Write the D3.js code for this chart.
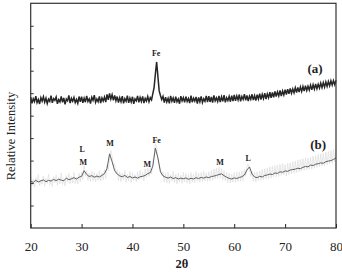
<!DOCTYPE html>
<html>
<head>
<meta charset="utf-8">
<script src="https://cdn.jsdelivr.net/npm/d3@7"></script>
<style>
  body { margin: 0; background: #fff; }
  svg { display: block; font-family: "Liberation Serif", "DejaVu Serif", serif; }
</style>
</head>
<body>
<svg id="chart" width="342" height="272"></svg>
<script>
// 2theta sampling: start 20, step 0.25 for the noisy traces, 0.5 for the smoothed one
var thetaStart = 20, fineStep = 0.25, coarseStep = 0.5;
var xTicks = [20, 30, 40, 50, 60, 70, 80];
var yTicks = [1, 2, 3, 4, 5, 6, 7, 8, 9];

// (a) raw trace
var seriesA = [
  5.82, 5.55, 5.75, 5.62, 5.87, 5.58, 5.72, 5.52, 5.80, 5.65,
  5.84, 5.60, 5.78, 5.54, 5.73, 5.63, 5.89, 5.57, 5.76, 5.68,
  5.83, 5.53, 5.71, 5.61, 5.86, 5.59, 5.79, 5.50, 5.74, 5.66,
  5.90, 5.56, 5.77, 5.64, 5.81, 5.58, 5.72, 5.55, 5.85, 5.62,
  5.84, 5.57, 5.78, 5.60, 5.88, 5.63, 5.75, 5.54, 5.82, 5.68,
  5.91, 5.59, 5.74, 5.62, 5.86, 5.56, 5.79, 5.65, 5.83, 5.60,
  5.95, 5.70, 5.99, 5.74, 5.93, 5.68, 5.90, 5.66,
  5.85, 5.58, 5.80, 5.62, 5.87, 5.55, 5.76, 5.64, 5.89, 5.57,
  5.78, 5.61, 5.84, 5.53, 5.75, 5.66, 5.88, 5.59, 5.81, 5.63,
  5.86, 5.56, 5.77, 5.65, 5.85, 5.62,
  5.80, 5.70, 5.98, 6.25, 6.85, 7.39, 6.75, 6.10, 5.90, 5.72,
  5.86, 5.58, 5.82, 5.61, 5.77, 5.55, 5.88, 5.64, 5.79, 5.57,
  5.84, 5.62, 5.74, 5.53, 5.87, 5.66, 5.80, 5.59, 5.85, 5.63,
  5.76, 5.56, 5.89, 5.60, 5.78, 5.65, 5.83, 5.54, 5.81, 5.62,
  5.86, 5.58, 5.75, 5.64, 5.88, 5.60,
  5.87, 5.61, 5.83, 5.58, 5.90, 5.66, 5.79, 5.63, 5.88, 5.60,
  5.84, 5.64, 5.91, 5.59, 5.80, 5.67, 5.86, 5.62, 5.89, 5.65,
  5.92, 5.66, 5.88, 5.70, 5.94, 5.64, 5.85, 5.72, 5.96, 5.68,
  5.90, 5.65, 5.87, 5.73, 5.95, 5.69, 5.89, 5.67, 5.93, 5.74,
  5.98, 5.72, 5.95, 5.76, 6.00, 5.74, 5.97, 5.80, 6.04, 5.79,
  6.03, 5.82, 6.08, 5.85, 6.06, 5.88, 6.12, 5.87, 6.10, 5.92,
  6.16, 5.94, 6.18, 5.97, 6.21, 6.00, 6.19, 6.02, 6.24, 6.03,
  6.26, 6.05, 6.28, 6.08, 6.30, 6.09, 6.33, 6.12, 6.31, 6.14,
  6.36, 6.15, 6.38, 6.18, 6.41, 6.20, 6.40, 6.23, 6.45, 6.25,
  6.47, 6.27, 6.50, 6.30, 6.52, 6.33, 6.55, 6.36, 6.56, 6.38, 6.57
];

// (b) raw trace (light grey)
var seriesBRaw = [
  2.30, 1.90, 2.18, 1.82, 2.24, 2.00, 2.38, 1.88, 2.14, 1.95,
  2.32, 1.86, 2.21, 1.98, 2.40, 1.92, 2.17, 1.84, 2.28, 2.02,
  2.36, 1.90, 2.25, 1.96, 2.45, 1.94, 2.20, 1.88, 2.34, 2.04,
  2.42, 1.97, 2.30, 2.00, 2.48, 1.98, 2.27, 1.95, 2.44, 2.06,
  2.50, 2.15, 2.78, 2.30, 2.55, 2.12, 2.45, 2.08, 2.52, 2.10,
  2.48, 2.05, 2.42, 2.12, 2.55, 2.08, 2.46, 2.14, 2.60, 2.20,
  2.80, 2.55, 3.10, 3.45, 3.20, 2.75, 2.85, 2.45,
  2.58, 2.12, 2.50, 2.06, 2.44, 2.15, 2.55, 2.04, 2.40, 2.10,
  2.52, 2.02, 2.46, 2.12, 2.38, 2.05, 2.50, 2.14, 2.56, 2.18,
  2.48, 2.10, 2.62, 2.25, 2.66, 2.30,
  2.70, 2.40, 2.95, 3.25, 3.75, 3.60, 3.10, 2.80, 2.62, 2.35,
  2.50, 2.05, 2.42, 2.00, 2.46, 1.98, 2.38, 2.08, 2.52, 2.02,
  2.40, 1.96, 2.44, 2.04, 2.36, 1.99, 2.48, 2.06, 2.42, 2.00,
  2.38, 1.95, 2.46, 2.05, 2.40, 2.02, 2.50, 2.08, 2.44, 2.04,
  2.48, 2.06, 2.52, 2.10, 2.45, 2.08,
  2.50, 2.10, 2.55, 2.12, 2.62, 2.18, 2.66, 2.20, 2.70, 2.22,
  2.64, 2.15, 2.55, 2.10, 2.48, 2.02, 2.44, 2.00, 2.40, 2.04,
  2.46, 2.02, 2.48, 2.06, 2.50, 2.08, 2.54, 2.12, 2.60, 2.30,
  2.75, 2.85, 2.65, 2.30, 2.52, 2.08, 2.48, 2.04, 2.50, 2.10,
  2.55, 2.12, 2.60, 2.15, 2.64, 2.18, 2.68, 2.20, 2.72, 2.22,
  2.74, 2.26, 2.78, 2.28, 2.80, 2.30, 2.84, 2.34, 2.86, 2.36,
  2.82, 2.32, 2.88, 2.38, 2.90, 2.40, 2.95, 2.44, 2.98, 2.46,
  3.02, 2.50, 3.05, 2.54, 3.08, 2.56, 3.12, 2.58, 3.10, 2.62,
  3.15, 2.62, 3.20, 2.66, 3.22, 2.70, 3.28, 2.72, 3.30, 2.76,
  3.34, 2.78, 3.38, 2.82, 3.40, 2.86, 3.45, 2.90, 3.50, 2.95, 3.58
];

// (b) smoothed trace (dark), 0.5 step
var seriesBSmooth = [
  2.08, 2.03, 2.12, 2.05, 2.10, 2.14, 2.06, 2.12, 2.09, 2.16,
  2.11, 2.17, 2.13, 2.10, 2.22, 2.15, 2.19, 2.24, 2.18, 2.26,
  2.30, 2.55, 2.38, 2.29, 2.33, 2.26, 2.31, 2.27, 2.34, 2.42,
  2.65, 3.30, 2.95, 2.55, 2.40, 2.32, 2.28, 2.34, 2.25, 2.29,
  2.23, 2.27, 2.22, 2.28, 2.30, 2.34, 2.42, 2.46, 2.75, 3.55,
  3.12, 2.50, 2.32, 2.26, 2.22, 2.27, 2.20, 2.24, 2.18, 2.22,
  2.19, 2.23, 2.17, 2.21, 2.18, 2.24, 2.20, 2.25, 2.22, 2.27,
  2.24, 2.29, 2.31, 2.34, 2.38, 2.41, 2.33, 2.26, 2.21, 2.18,
  2.23, 2.20, 2.25, 2.28, 2.36, 2.58, 2.72, 2.40, 2.27, 2.24,
  2.30, 2.27, 2.34, 2.36, 2.40, 2.38, 2.45, 2.43, 2.50, 2.48,
  2.54, 2.52, 2.58, 2.60, 2.62, 2.66, 2.64, 2.70, 2.74, 2.72,
  2.80, 2.78, 2.84, 2.86, 2.90, 2.88, 2.95, 2.98, 3.00, 3.05,
  3.12
];

// peak annotations (2theta, intensity at label centre)
var peakText  = ["Fe", "L", "M", "M", "M", "Fe", "M", "L"];
var peakTheta = [44.65, 30.1, 30.35, 35.6, 42.9, 44.75, 57.2, 62.75];
var peakLevel = [7.79, 3.50, 2.95, 3.77, 2.83, 3.92, 2.95, 3.10];

var seriesNames = ["(a)", "(b)"];
var nameTheta = [75.9, 76.5];
var nameLevel = [7.12, 3.74];

var svg = d3.select("#chart");
var margin = {left: 30.7, top: 3.3, right: 6, bottom: 44};
var width = 342 - margin.left - margin.right,
    height = 272 - margin.top - margin.bottom;

var x = d3.scaleLinear().domain([20, 80]).range([0, width]);
var y = d3.scaleLinear().domain([0, 10]).range([height, 0]);

var g = svg.append("g").attr("transform", "translate(" + margin.left + "," + margin.top + ")");

function toPoints(arr, step) {
    return arr.map(function (v, i) { return [thetaStart + i * step, v]; });
}

var line = d3.line().x(function (d) { return x(d[0]); }).y(function (d) { return y(d[1]); });

g.append("path")
    .attr("d", line(toPoints(seriesBRaw, fineStep)))
    .attr("fill", "none").attr("stroke", "#dedede").attr("stroke-width", 0.7);
g.append("path")
    .attr("d", line(toPoints(seriesBSmooth, coarseStep)))
    .attr("fill", "none").attr("stroke", "#505050").attr("stroke-width", 0.9);
g.append("path")
    .attr("d", line(toPoints(seriesA, fineStep)))
    .attr("fill", "none").attr("stroke", "#262626").attr("stroke-width", 1.5);

// axes
var xAxis = d3.axisBottom(x).tickValues(xTicks).tickSizeInner(-4).tickSizeOuter(0).tickPadding(14);
var gx = g.append("g").attr("transform", "translate(0," + height + ")").call(xAxis);
gx.attr("font-family", null).attr("font-size", null);
gx.select(".domain").remove();
gx.selectAll("line").attr("stroke", "#222").attr("stroke-width", 1);
gx.selectAll("text").attr("font-size", 13).attr("fill", "#222");

var yAxis = d3.axisLeft(y).tickValues(yTicks).tickSizeInner(-3).tickSizeOuter(0).tickFormat("");
var gy = g.append("g").call(yAxis);
gy.select(".domain").remove();
gy.selectAll("line").attr("stroke", "#333").attr("stroke-width", 1);

// frame
g.append("rect")
    .attr("x", 0).attr("y", 0).attr("width", width).attr("height", height)
    .attr("fill", "none").attr("stroke", "#333").attr("stroke-width", 1.2);

// annotations
g.selectAll("text.peak")
    .data(peakText)
    .enter().append("text")
    .attr("class", "peak")
    .attr("x", function (d, i) { return x(peakTheta[i]); })
    .attr("y", function (d, i) { return y(peakLevel[i]); })
    .attr("dy", "0.35em")
    .attr("text-anchor", "middle")
    .attr("font-size", 8)
    .attr("font-weight", "bold")
    .attr("fill", "#222")
    .text(function (d) { return d; });

g.selectAll("text.series")
    .data(seriesNames)
    .enter().append("text")
    .attr("class", "series")
    .attr("x", function (d, i) { return x(nameTheta[i]); })
    .attr("y", function (d, i) { return y(nameLevel[i]); })
    .attr("dy", "0.35em")
    .attr("text-anchor", "middle")
    .attr("font-size", 13)
    .attr("font-weight", "bold")
    .attr("fill", "#222")
    .text(function (d) { return d; });

// axis titles
svg.append("text")
    .attr("transform", "translate(11,136)rotate(-90)")
    .attr("dy", "0.35em")
    .attr("text-anchor", "middle")
    .attr("font-size", 12.5)
    .attr("fill", "#222")
    .text("Relative Intensity");

svg.append("text")
    .attr("x", 182).attr("y", 268)
    .attr("text-anchor", "middle")
    .attr("font-size", 12.5)
    .attr("font-weight", "bold")
    .attr("fill", "#222")
    .text("2θ");
</script>
</body>
</html>
